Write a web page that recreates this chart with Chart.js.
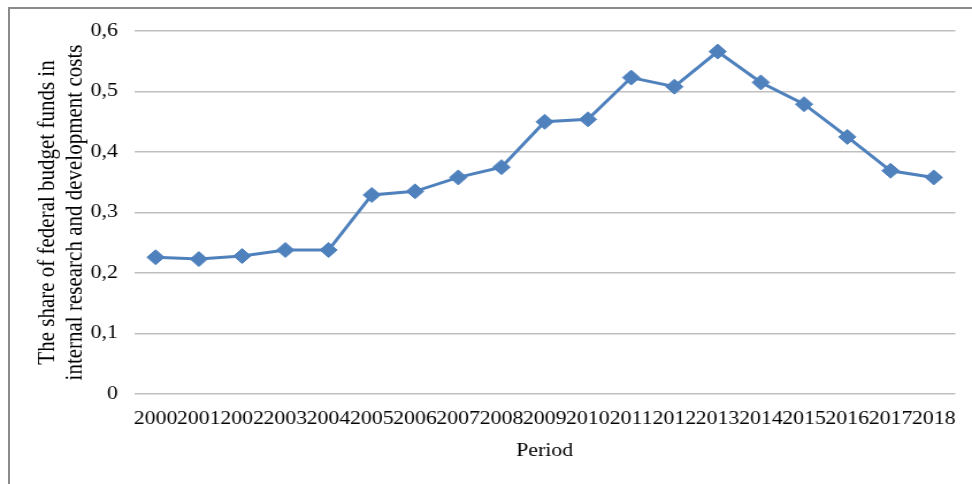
<!DOCTYPE html>
<html>
<head>
<meta charset="utf-8">
<script src="https://cdn.jsdelivr.net/npm/chart.js@4.4.1/dist/chart.umd.min.js"></script>
<style>
  html, body { margin: 0; padding: 0; background: #fff; overflow: hidden; }
  #frame {
    position: absolute; left: 8px; top: 7px; width: 980px; height: 490px;
    border-left: 2px solid #8a8a8a; border-top: 2px solid #8a8a8a;
  }
  /* the original picture is a bit stretched sideways, so the chart is drawn narrow and widened */
  #wrap {
    position: absolute; left: 0; top: 0; width: 845px; height: 484px;
    transform: scaleX(1.1503); transform-origin: 0 0;
  }
</style>
</head>
<body>
<div id="frame"></div>
<div id="wrap"><canvas id="grafico"></canvas></div>
<script>
// dados
const anos = ['2000', '2001', '2002', '2003', '2004', '2005', '2006', '2007', '2008', '2009',
              '2010', '2011', '2012', '2013', '2014', '2015', '2016', '2017', '2018'];
const parcela = [0.226, 0.223, 0.228, 0.238, 0.238, 0.329, 0.335, 0.358, 0.375, 0.450,
                 0.454, 0.523, 0.508, 0.566, 0.515, 0.479, 0.425, 0.369, 0.358];
const rotulosY = ['0', '0,1', '0,2', '0,3', '0,4', '0,5', '0,6'];

const fonte = 'Liberation Serif, Times New Roman, serif';
const azul = '#4f81bd';

const ctx = document.getElementById('grafico').getContext('2d');
new Chart(ctx, {
  type: 'line',
  data: {
    labels: anos,
    datasets: [{
      data: parcela,
      borderColor: azul,
      backgroundColor: azul,
      borderWidth: 3,
      pointStyle: 'rectRot',
      pointRadius: 7.5,
      pointBorderWidth: 1,
      pointBackgroundColor: azul,
      pointBorderColor: azul,
      tension: 0
    }]
  },
  options: {
    responsive: true,
    maintainAspectRatio: false,
    animation: false,
    layout: { padding: { left: 0, top: 31, right: 9, bottom: 0 } },
    plugins: {
      legend: { display: false },
      tooltip: { enabled: false }
    },
    scales: {
      x: {
        offset: true,
        grid: { display: false, drawTicks: false },
        border: { display: false },
        ticks: {
          color: '#000',
          font: { family: fonte, size: 19 },
          autoSkip: false,
          maxRotation: 0,
          padding: 14
        },
        title: {
          display: true,
          text: 'Period',
          color: '#000',
          font: { family: fonte, size: 19 },
          padding: { top: 0, bottom: 22 }
        },
        afterFit: function (scale) { scale.height = 90; }
      },
      y: {
        min: 0,
        max: 0.6,
        grid: { color: '#bfbfbf', lineWidth: 1.5, drawTicks: false },
        border: { display: false },
        ticks: {
          stepSize: 0.1,
          color: '#000',
          font: { family: fonte, size: 19 },
          padding: 14,
          callback: function (valor, i) { return rotulosY[i]; }
        },
        title: {
          display: true,
          text: ['The share of federal budget funds in', 'internal research and development costs'],
          color: '#000',
          font: { family: fonte, size: 21, lineHeight: 1.12 },
          padding: { top: 30, bottom: 0 }
        },
        afterFit: function (scale) { scale.width = 116.5; }
      }
    }
  }
});
</script>
</body>
</html>
